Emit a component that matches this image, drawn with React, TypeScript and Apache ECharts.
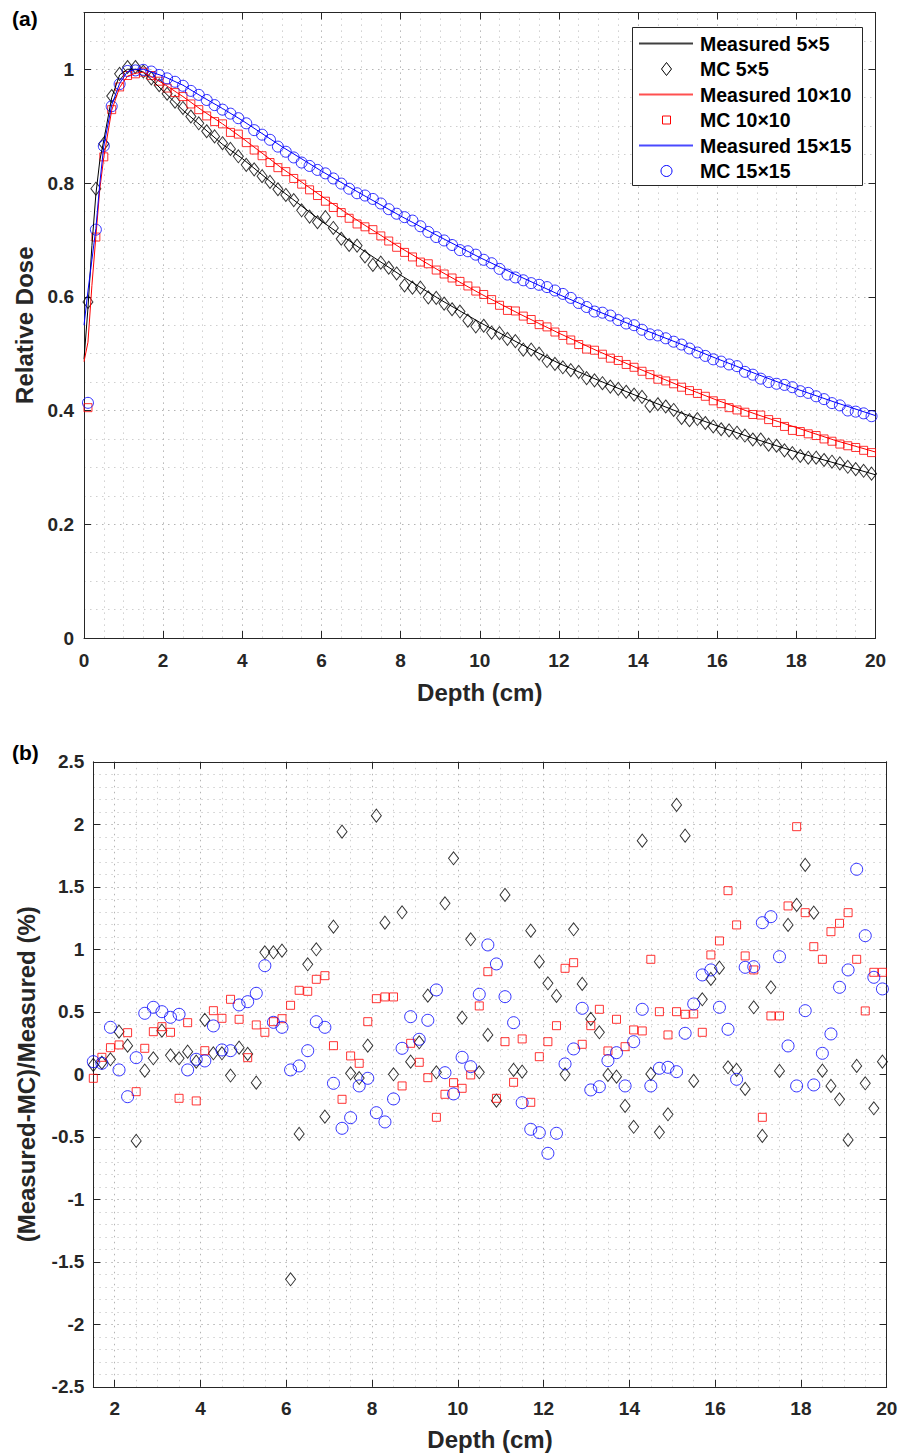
import React, { useEffect, useRef } from 'react';
import * as echarts from 'echarts';

// ---------- DATA ----------
// Monte Carlo depths (cm)
const mcDepth = [
  0.1, 0.3, 0.5, 0.7, 0.9, 1.1, 1.3, 1.5, 1.7, 1.9,
  2.1, 2.3, 2.5, 2.7, 2.9, 3.1, 3.3, 3.5, 3.7, 3.9,
  4.1, 4.3, 4.5, 4.7, 4.9, 5.1, 5.3, 5.5, 5.7, 5.9,
  6.1, 6.3, 6.5, 6.7, 6.9, 7.1, 7.3, 7.5, 7.7, 7.9,
  8.1, 8.3, 8.5, 8.7, 8.9, 9.1, 9.3, 9.5, 9.7, 9.9,
  10.1, 10.3, 10.5, 10.7, 10.9, 11.1, 11.3, 11.5, 11.7, 11.9,
  12.1, 12.3, 12.5, 12.7, 12.9, 13.1, 13.3, 13.5, 13.7, 13.9,
  14.1, 14.3, 14.5, 14.7, 14.9, 15.1, 15.3, 15.5, 15.7, 15.9,
  16.1, 16.3, 16.5, 16.7, 16.9, 17.1, 17.3, 17.5, 17.7, 17.9,
  18.1, 18.3, 18.5, 18.7, 18.9, 19.1, 19.3, 19.5, 19.7, 19.9,
];
const diffDepth = mcDepth.slice(7);

const mc5 = [
  0.591, 0.790, 0.869, 0.953, 0.992, 1.004, 1.004, 0.996, 0.984, 0.972,
  0.957, 0.943, 0.932, 0.917, 0.905, 0.891, 0.882, 0.870, 0.860, 0.847,
  0.832, 0.824, 0.812, 0.802, 0.789, 0.779, 0.770, 0.752, 0.741, 0.731,
  0.740, 0.721, 0.702, 0.691, 0.690, 0.671, 0.656, 0.660, 0.651, 0.641,
  0.620, 0.616, 0.616, 0.599, 0.598, 0.588, 0.578, 0.574, 0.558, 0.548,
  0.549, 0.537, 0.536, 0.526, 0.522, 0.507, 0.507, 0.500, 0.487, 0.482,
  0.476, 0.471, 0.468, 0.457, 0.453, 0.448, 0.442, 0.438, 0.433, 0.428,
  0.424, 0.408, 0.411, 0.407, 0.401, 0.387, 0.383, 0.385, 0.378, 0.372,
  0.367, 0.365, 0.361, 0.356, 0.349, 0.349, 0.340, 0.338, 0.330, 0.325,
  0.320, 0.317, 0.317, 0.313, 0.310, 0.307, 0.301, 0.297, 0.294, 0.289,
];
const mc10 = [
  0.405, 0.705, 0.846, 0.929, 0.969, 0.989, 0.992, 0.995, 0.989, 0.979,
  0.967, 0.959, 0.952, 0.939, 0.929, 0.918, 0.908, 0.904, 0.889, 0.886,
  0.871, 0.858, 0.848, 0.836, 0.827, 0.820, 0.808, 0.798, 0.788, 0.778,
  0.768, 0.757, 0.748, 0.738, 0.728, 0.723, 0.718, 0.707, 0.698, 0.687,
  0.678, 0.670, 0.661, 0.658, 0.647, 0.640, 0.633, 0.627, 0.619, 0.610,
  0.604, 0.595, 0.585, 0.576, 0.575, 0.566, 0.560, 0.551, 0.547, 0.538,
  0.532, 0.524, 0.516, 0.508, 0.506, 0.499, 0.492, 0.488, 0.481, 0.476,
  0.469, 0.463, 0.455, 0.452, 0.447, 0.441, 0.435, 0.430, 0.425, 0.417,
  0.412, 0.405, 0.401, 0.397, 0.393, 0.392, 0.384, 0.379, 0.372, 0.365,
  0.363, 0.359, 0.356, 0.350, 0.346, 0.341, 0.338, 0.335, 0.330, 0.326,
];
const mc15 = [
  0.4135, 0.718, 0.865, 0.935, 0.974, 0.997, 0.998, 0.999, 0.996, 0.990,
  0.984, 0.978, 0.971, 0.962, 0.955, 0.946, 0.937, 0.929, 0.922, 0.914,
  0.905, 0.893, 0.885, 0.876, 0.864, 0.855, 0.845, 0.836, 0.830, 0.823,
  0.817, 0.808, 0.799, 0.790, 0.782, 0.778, 0.772, 0.764, 0.754, 0.746,
  0.740, 0.734, 0.724, 0.714, 0.705, 0.699, 0.691, 0.682, 0.680, 0.674,
  0.665, 0.659, 0.649, 0.639, 0.634, 0.629, 0.624, 0.621, 0.617, 0.611,
  0.605, 0.598, 0.589, 0.582, 0.574, 0.572, 0.567, 0.559, 0.553, 0.550,
  0.542, 0.534, 0.532, 0.527, 0.521, 0.516, 0.509, 0.502, 0.496, 0.490,
  0.486, 0.481, 0.478, 0.468, 0.463, 0.456, 0.450, 0.447, 0.445, 0.441,
  0.434, 0.431, 0.425, 0.420, 0.413, 0.409, 0.400, 0.398, 0.395, 0.390,
];

// Measured depth-dose curves
const measDepth = [
  0, 0.1, 0.2, 0.3, 0.4, 0.5, 0.7, 0.9, 1.1, 1.3, 1.5, 2, 2.5, 3, 3.5, 4,
  5, 6, 7, 8, 9, 10, 11, 12, 13, 14, 15, 16, 17, 18, 19, 20,
];
const meas5 = [
  0.49, 0.58, 0.69, 0.78, 0.84, 0.875, 0.95, 0.99, 1.0, 1.0, 0.995, 0.962, 0.928, 0.898, 0.868, 0.843,
  0.786, 0.733, 0.684, 0.638, 0.595, 0.555, 0.518, 0.483, 0.453, 0.425, 0.398, 0.373, 0.349, 0.327, 0.307, 0.287,
];
const meas10 = [
  0.486, 0.52, 0.62, 0.706, 0.79, 0.845, 0.928, 0.968, 0.988, 0.993, 0.995, 0.975, 0.952, 0.927, 0.904, 0.879,
  0.826, 0.777, 0.730, 0.686, 0.645, 0.606, 0.570, 0.536, 0.504, 0.474, 0.445, 0.418, 0.393, 0.370, 0.347, 0.327,
];
const meas15 = [
  0.55, 0.61, 0.665, 0.72, 0.80, 0.865, 0.937, 0.975, 0.996, 1.0, 1.0, 0.988, 0.972, 0.951, 0.931, 0.91,
  0.864, 0.821, 0.781, 0.742, 0.705, 0.669, 0.636, 0.604, 0.574, 0.546, 0.519, 0.491, 0.464, 0.438, 0.414, 0.391,
];

// (Measured - MC)/Measured (%) at diffDepth
const diff5 = [
  0.075, 0.093, 0.12, 0.341, 0.229, -0.533, 0.029, 0.128, 0.349, 0.152,
  0.128, 0.181, 0.101, 0.435, 0.168, 0.168, -0.01, 0.213, 0.163, -0.067,
  0.976, 0.976, 0.989, -1.64, -0.477, 0.88, 1.0, -0.339, 1.181, 1.941,
  0.008, -0.03, 0.229, 2.069, 1.213, 0.0, 1.296, 0.101, 0.256, 0.629,
  0.016, 1.368, 1.728, 0.453, 1.08, 0.016, 0.315, -0.211, 1.435, 0.035,
  0.021, 1.149, 0.901, 0.728, 0.627, 0.0, 1.16, 0.723, 0.443, 0.336,
  -0.005, -0.019, -0.253, -0.42, 1.869, 0.003, -0.464, -0.32, 2.155, 1.909,
  -0.053, 0.6, 0.763, 0.853, 0.056, 0.035, -0.117, 0.536, -0.493, 0.696,
  0.027, 1.195, 1.355, 1.675, 1.293, 0.029, -0.093, -0.2, -0.525, 0.067,
  -0.072, -0.272, 0.101,
];
const diff10 = [
  -0.032, 0.136, 0.213, 0.235, 0.333, -0.139, 0.208, 0.341, 0.381, 0.336,
  -0.192, 0.413, -0.213, 0.189, 0.509, 0.448, 0.6, 0.44, 0.133, 0.395,
  0.336, 0.421, 0.445, 0.552, 0.672, 0.664, 0.76, 0.789, 0.229, -0.2,
  0.147, 0.088, 0.421, 0.605, 0.619, 0.619, -0.093, 0.248, 0.096, -0.027,
  -0.344, -0.16, -0.067, -0.112, -0.005, 0.547, 0.821, -0.192, 0.261, -0.064,
  0.283, -0.224, 0.141, 0.261, 0.389, 0.848, 0.893, 0.24, 0.389, 0.52,
  0.187, 0.44, 0.221, 0.355, 0.347, 0.92, 0.501, 0.315, 0.501, 0.48,
  0.483, 0.336, 0.955, 1.067, 1.469, 1.195, 0.947, 0.835, -0.344, 0.467,
  0.467, 1.347, 1.981, 1.293, 1.021, 0.92, 1.141, 1.208, 1.293, 0.92,
  0.507, 0.816, 0.816,
];
const diff15 = [
  0.101, 0.088, 0.376, 0.035, -0.179, 0.133, 0.488, 0.536, 0.501, 0.456,
  0.48, 0.035, 0.12, 0.107, 0.387, 0.195, 0.189, 0.555, 0.581, 0.648,
  0.869, 0.416, 0.376, 0.035, 0.067, 0.189, 0.421, 0.376, -0.072, -0.432,
  -0.347, -0.093, -0.032, -0.307, -0.381, -0.197, 0.208, 0.461, 0.28, 0.432,
  0.675, 0.013, -0.157, 0.136, 0.061, 0.64, 1.035, 0.883, 0.621, 0.413,
  -0.227, -0.44, -0.467, -0.632, -0.472, 0.083, 0.203, 0.528, -0.125, -0.099,
  0.109, 0.173, -0.093, 0.261, 0.52, -0.093, 0.048, 0.056, 0.021, 0.328,
  0.563, 0.795, 0.835, 0.536, 0.36, -0.04, 0.856, 0.861, 1.213, 1.261,
  0.941, 0.227, -0.093, 0.509, -0.085, 0.168, 0.323, 0.696, 0.835, 1.64,
  1.109, 0.776, 0.683,
];

const xTicksBottom = [2, 4, 6, 8, 10, 12, 14, 16, 18, 20];
const legendLabels = ['Measured 5×5', 'MC 5×5', 'Measured 10×10', 'MC 10×10', 'Measured 15×15', 'MC 15×15'];
const legendColors = ['#000000', '#000000', '#ff0000', '#ff0000', '#0000ff', '#0000ff'];
const legendLineColors = ['#404040', '#404040', '#ff5050', '#ff5050', '#4a4aff', '#4a4aff'];

// ---------- STYLE ----------
const FONT = '"Liberation Sans", Arial, Helvetica, sans-serif';
const AX = '#262626';
const MAJOR = '#b4b4b4';
const MINOR = '#cfcfcf';
const DOT = [1.5, 4.5];

const zip = (xs: number[], ys: number[]) => ys.map((y, i) => [xs[i], y]);

function labeledAxis(extra: any) {
  return {
    type: 'value',
    axisLine: { show: true, onZero: false, lineStyle: { color: AX, width: 1 } },
    axisTick: { show: true, inside: true, length: 7, lineStyle: { color: AX, width: 1 } },
    axisLabel: { show: true, color: AX, fontSize: 19, fontWeight: 'bold', fontFamily: FONT },
    splitLine: { show: false },
    nameTextStyle: { color: AX, fontSize: 24, fontWeight: 'bold', fontFamily: FONT },
    ...extra,
  };
}
function mirrorAxis(extra: any) {
  return {
    type: 'value',
    axisLine: { show: true, onZero: false, lineStyle: { color: AX, width: 1 } },
    axisTick: { show: true, inside: true, length: 7, lineStyle: { color: AX, width: 1 } },
    axisLabel: { show: false },
    splitLine: { show: false },
    ...extra,
  };
}
function gridAxis(extra: any, colors: string[]) {
  return {
    type: 'value',
    axisLine: { show: false },
    axisTick: { show: false },
    axisLabel: { show: false },
    splitLine: { show: true, lineStyle: { color: colors, width: 1, type: DOT } },
    z: 0,
    ...extra,
  };
}

function buildOption() {
  const scatterStyle = (c: string) => ({ color: 'rgba(0,0,0,0)', borderColor: c, borderWidth: 1 });

  const legendEls: any[] = [];
  legendEls.push({
    id: 'legend-box',
    type: 'rect',
    shape: { x: 632.5, y: 27.5, width: 230, height: 158 },
    style: { fill: '#ffffff', stroke: AX, lineWidth: 1 },
    z: 100,
  });
  legendLabels.forEach((label, i) => {
    const y = 43.5 + i * 25.5;
    const c = legendColors[i];
    if (i % 2 === 0) {
      legendEls.push({
        id: `legend-line-${i}`,
        type: 'rect',
        shape: { x: 639, y: y - 1, width: 54, height: 2 },
        style: { fill: legendLineColors[i], stroke: 'none' },
        z: 101,
      });
    } else if (i === 1) {
      legendEls.push({
        id: `legend-mark-${i}`,
        type: 'polygon',
        shape: { points: [[666.5, y - 6.5], [671.5, y], [666.5, y + 6.5], [661.5, y]] },
        style: { fill: 'none', stroke: c, lineWidth: 1 },
        z: 101,
      });
    } else if (i === 3) {
      legendEls.push({
        id: `legend-mark-${i}`,
        type: 'rect',
        shape: { x: 662.5, y: y - 4, width: 8, height: 8 },
        style: { fill: 'none', stroke: c, lineWidth: 1 },
        z: 101,
      });
    } else {
      legendEls.push({
        id: `legend-mark-${i}`,
        type: 'circle',
        shape: { cx: 666.5, cy: y, r: 5.5 },
        style: { fill: 'none', stroke: c, lineWidth: 1 },
        z: 101,
      });
    }
    legendEls.push({
      id: `legend-text-${i}`,
      type: 'text',
      x: 700,
      y,
      style: { text: label, fill: '#000', font: `bold 19.5px ${FONT}`, textVerticalAlign: 'middle', textAlign: 'left' },
      z: 101,
    });
  });
  legendEls.push({ id: 'panel-a', type: 'text', x: 12, y: 18, style: { text: '(a)', fill: '#000', font: `bold 21px ${FONT}`, textVerticalAlign: 'middle' }, z: 101 });
  legendEls.push({ id: 'panel-b', type: 'text', x: 12, y: 752, style: { text: '(b)', fill: '#000', font: `bold 21px ${FONT}`, textVerticalAlign: 'middle' }, z: 101 });

  return {
    animation: false,
    backgroundColor: '#ffffff',
    grid: [
      { left: 84, top: 12.4, width: 791.5, height: 625.6 },
      { left: 93.3, top: 761.8, width: 793.4, height: 625 },
    ],
    xAxis: [
      labeledAxis({
        gridIndex: 0, position: 'bottom', min: 0, max: 20, interval: 2,
        axisLabel: { show: true, color: AX, fontSize: 19, fontWeight: 'bold', fontFamily: FONT, margin: 13 },
        name: 'Depth (cm)', nameLocation: 'middle', nameGap: 42,
      }),
      mirrorAxis({ gridIndex: 0, position: 'top', min: 0, max: 20, interval: 2 }),
      gridAxis({ gridIndex: 0, position: 'bottom', min: 0, max: 20, interval: 0.5 }, [MAJOR, MINOR, MINOR, MINOR]),
      labeledAxis({
        gridIndex: 1, position: 'bottom', min: 1.5, max: 20, interval: 0.5,
        axisTick: { show: true, inside: true, length: 7, lineStyle: { color: AX, width: 1 }, customValues: xTicksBottom },
        axisLabel: { show: true, color: AX, fontSize: 19, fontWeight: 'bold', fontFamily: FONT, margin: 12, customValues: xTicksBottom },
        name: 'Depth (cm)', nameLocation: 'middle', nameGap: 41,
      }),
      mirrorAxis({
        gridIndex: 1, position: 'top', min: 1.5, max: 20, interval: 0.5,
        axisTick: { show: true, inside: true, length: 7, lineStyle: { color: AX, width: 1 }, customValues: xTicksBottom },
      }),
      gridAxis({ gridIndex: 1, position: 'bottom', min: 1.5, max: 20, interval: 0.5 }, [MINOR, MAJOR, MINOR, MINOR]),
    ],
    yAxis: [
      labeledAxis({
        gridIndex: 0, position: 'left', min: 0, max: 1.1, interval: 0.2,
        axisLabel: {
          show: true, color: AX, fontSize: 19, fontWeight: 'bold', fontFamily: FONT, margin: 10,
          formatter: (v: number) => (v > 1.05 ? '' : String(Math.round(v * 10) / 10)),
        },
        name: 'Relative Dose', nameLocation: 'middle', nameGap: 47,
      }),
      mirrorAxis({ gridIndex: 0, position: 'right', min: 0, max: 1.1, interval: 0.2 }),
      gridAxis({ gridIndex: 0, position: 'left', min: 0, max: 1.1, interval: 0.05 }, [MAJOR, MINOR, MINOR, MINOR]),
      labeledAxis({
        gridIndex: 1, position: 'left', min: -2.5, max: 2.5, interval: 0.5,
        axisLabel: { show: true, color: AX, fontSize: 19, fontWeight: 'bold', fontFamily: FONT, margin: 9 },
        name: '(Measured-MC)/Measured (%)', nameLocation: 'middle', nameGap: 55,
      }),
      mirrorAxis({ gridIndex: 1, position: 'right', min: -2.5, max: 2.5, interval: 0.5 }),
      gridAxis({ gridIndex: 1, position: 'left', min: -2.5, max: 2.5, interval: 0.1 }, [MAJOR, MINOR, MINOR, MINOR, MINOR]),
    ],
    series: [
      { type: 'line', name: legendLabels[0], xAxisIndex: 0, yAxisIndex: 0, data: zip(measDepth, meas5), showSymbol: false, symbol: 'none', lineStyle: { color: '#000000', width: 1 }, itemStyle: { color: '#000000' }, silent: true },
      { type: 'scatter', name: legendLabels[1], xAxisIndex: 0, yAxisIndex: 0, data: zip(mcDepth, mc5), symbol: 'diamond', symbolSize: [10, 13], itemStyle: scatterStyle('#000000'), silent: true },
      { type: 'line', name: legendLabels[2], xAxisIndex: 0, yAxisIndex: 0, data: zip(measDepth, meas10), showSymbol: false, symbol: 'none', lineStyle: { color: '#ff0000', width: 1 }, itemStyle: { color: '#ff0000' }, silent: true },
      { type: 'scatter', name: legendLabels[3], xAxisIndex: 0, yAxisIndex: 0, data: zip(mcDepth, mc10), symbol: 'rect', symbolSize: 8, itemStyle: scatterStyle('#ff0000'), silent: true },
      { type: 'line', name: legendLabels[4], xAxisIndex: 0, yAxisIndex: 0, data: zip(measDepth, meas15), showSymbol: false, symbol: 'none', lineStyle: { color: '#0000ff', width: 1 }, itemStyle: { color: '#0000ff' }, silent: true },
      { type: 'scatter', name: legendLabels[5], xAxisIndex: 0, yAxisIndex: 0, data: zip(mcDepth, mc15), symbol: 'circle', symbolSize: 11, itemStyle: scatterStyle('#0000ff'), silent: true },

      { type: 'scatter', name: 'diff 5x5', xAxisIndex: 3, yAxisIndex: 3, data: zip(diffDepth, diff5), symbol: 'diamond', symbolSize: [10, 13], itemStyle: scatterStyle('#000000'), silent: true },
      { type: 'scatter', name: 'diff 10x10', xAxisIndex: 3, yAxisIndex: 3, data: zip(diffDepth, diff10), symbol: 'rect', symbolSize: 8, itemStyle: scatterStyle('#ff0000'), silent: true },
      { type: 'scatter', name: 'diff 15x15', xAxisIndex: 3, yAxisIndex: 3, data: zip(diffDepth, diff15), symbol: 'circle', symbolSize: 12, itemStyle: scatterStyle('#0000ff'), silent: true },
    ],
    graphic: { elements: legendEls },
  };
}

export default function App() {
  const ref = useRef<HTMLDivElement>(null);
  useEffect(() => {
    document.body.style.margin = '0';
    if (!ref.current) return;
    const chart = echarts.init(ref.current, null, { renderer: 'svg' });
    chart.setOption(buildOption() as any);
    return () => chart.dispose();
  }, []);
  return <div ref={ref} style={{ width: 914, height: 1454, background: '#fff' }} />;
}
